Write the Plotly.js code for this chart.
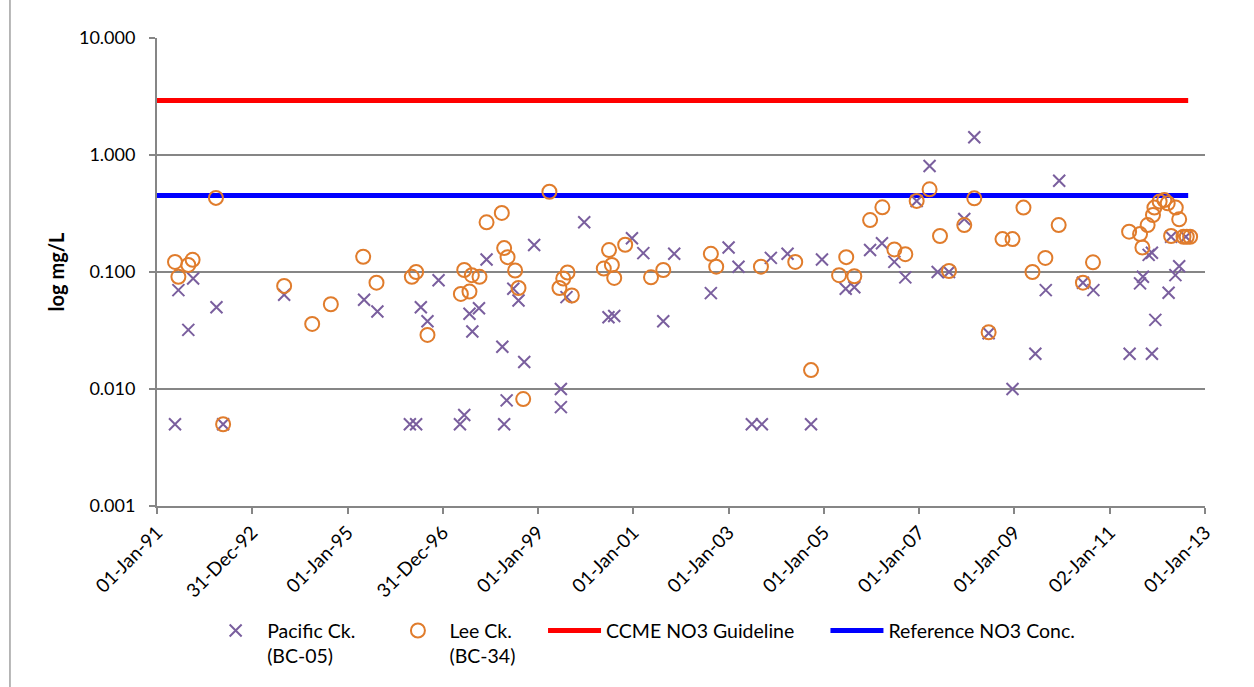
<!DOCTYPE html>
<html>
<head>
<meta charset="utf-8">
<script src="https://cdn.plot.ly/plotly-3.0.1.min.js"></script>
<style>html,body{margin:0;padding:0;background:#fff;}#chart{width:1254px;height:687px;}</style>
</head>
<body>
<div id="chart"></div>
<script>
// Sample dates as decimal years, values in mg/L
const pacificDates = [1991.38, 1991.45, 1991.66, 1991.76, 1992.25, 1992.39, 1993.67, 1995.35, 1995.63, 1996.31, 1996.44, 1996.54, 1996.68, 1996.91, 1997.36, 1997.45, 1997.56, 1997.62, 1997.76, 1997.92, 1998.25, 1998.29, 1998.34, 1998.48, 1998.59, 1998.71, 1998.92, 1999.48, 1999.48, 1999.60, 1999.97, 2000.48, 2000.60, 2000.97, 2001.21, 2001.63, 2001.86, 2002.63, 2003.00, 2003.21, 2003.49, 2003.70, 2003.89, 2004.24, 2004.73, 2004.96, 2005.46, 2005.64, 2005.97, 2006.22, 2006.48, 2006.71, 2006.95, 2007.22, 2007.39, 2007.63, 2007.95, 2008.16, 2008.46, 2008.96, 2009.44, 2009.66, 2009.94, 2010.44, 2010.66, 2011.42, 2011.64, 2011.70, 2011.82, 2011.89, 2011.89, 2011.96, 2012.24, 2012.29, 2012.38, 2012.46, 2012.60];
const pacificValues = [0.005, 0.07, 0.032, 0.088, 0.05, 0.005, 0.064, 0.058, 0.046, 0.005, 0.005, 0.05, 0.038, 0.085, 0.005, 0.006, 0.044, 0.031, 0.049, 0.128, 0.023, 0.005, 0.008, 0.072, 0.057, 0.017, 0.17, 0.01, 0.007, 0.061, 0.266, 0.041, 0.042, 0.194, 0.145, 0.038, 0.143, 0.066, 0.162, 0.111, 0.005, 0.005, 0.132, 0.143, 0.005, 0.128, 0.072, 0.074, 0.154, 0.176, 0.122, 0.09, 0.405, 0.805, 0.1, 0.1, 0.284, 1.42, 0.03, 0.01, 0.02, 0.07, 0.603, 0.081, 0.07, 0.02, 0.08, 0.091, 0.14, 0.146, 0.02, 0.039, 0.0665, 0.2, 0.094, 0.112, 0.2];

const leeDates = [1991.38, 1991.45, 1991.66, 1991.75, 1992.24, 1992.39, 1993.67, 1994.26, 1994.65, 1995.33, 1995.61, 1996.35, 1996.44, 1996.68, 1997.38, 1997.45, 1997.56, 1997.61, 1997.77, 1997.92, 1998.24, 1998.29, 1998.36, 1998.52, 1998.59, 1998.69, 1999.24, 1999.45, 1999.53, 1999.62, 1999.71, 2000.38, 2000.49, 2000.55, 2000.60, 2000.83, 2001.37, 2001.63, 2002.63, 2002.74, 2003.68, 2004.40, 2004.73, 2005.32, 2005.47, 2005.64, 2005.97, 2006.23, 2006.48, 2006.71, 2006.95, 2007.22, 2007.44, 2007.63, 2007.95, 2008.16, 2008.46, 2008.75, 2008.96, 2009.19, 2009.38, 2009.65, 2009.93, 2010.44, 2010.65, 2011.41, 2011.64, 2011.69, 2011.80, 2011.91, 2011.94, 2012.05, 2012.15, 2012.22, 2012.29, 2012.39, 2012.46, 2012.55, 2012.62, 2012.69];
const leeValues = [0.122, 0.091, 0.115, 0.127, 0.43, 0.005, 0.076, 0.036, 0.053, 0.135, 0.081, 0.091, 0.1, 0.029, 0.065, 0.104, 0.068, 0.094, 0.091, 0.266, 0.32, 0.16, 0.134, 0.103, 0.073, 0.0082, 0.485, 0.073, 0.088, 0.099, 0.063, 0.107, 0.154, 0.115, 0.089, 0.171, 0.09, 0.104, 0.143, 0.111, 0.111, 0.122, 0.0145, 0.094, 0.134, 0.092, 0.278, 0.357, 0.156, 0.142, 0.405, 0.509, 0.203, 0.102, 0.252, 0.426, 0.0305, 0.191, 0.191, 0.355, 0.1, 0.132, 0.252, 0.081, 0.121, 0.221, 0.211, 0.162, 0.252, 0.307, 0.355, 0.4, 0.412, 0.387, 0.203, 0.355, 0.282, 0.2, 0.2, 0.2];

const guidelineDates = ['1991-01-01', '2012-08-25'];
const ccmeValues = [2.93, 2.93];
const referenceValues = [0.45, 0.45];

const xTickVals = ['1991-01-01', '1992-12-31', '1995-01-01', '1996-12-31', '1999-01-01', '2001-01-01', '2003-01-01', '2005-01-01', '2007-01-01', '2009-01-01', '2011-01-02', '2013-01-01'];
const xTickText = ['01-Jan-91', '31-Dec-92', '01-Jan-95', '31-Dec-96', '01-Jan-99', '01-Jan-01', '01-Jan-03', '01-Jan-05', '01-Jan-07', '01-Jan-09', '02-Jan-11', '01-Jan-13'];
const yTickVals = [0.001, 0.01, 0.1, 1, 10];
const yTickText = ['0.001', '0.010', '0.100', '1.000', '10.000'];

function decYearToDate(d) {
  const y = Math.floor(d);
  const s = Date.UTC(y, 0, 1), e = Date.UTC(y + 1, 0, 1);
  return new Date(s + (d - y) * (e - s)).toISOString().slice(0, 10);
}

const FONT = 'Lato, "Open Sans", sans-serif';
const GRID = '#868686';
const PAD = '&nbsp;'.repeat(5) + '\u200A';

const traces = [
  {
    x: guidelineDates, y: ccmeValues, mode: 'lines', name: 'CCME NO3 Guideline' + PAD,
    line: {color: '#ff0000', width: 5}, legendrank: 3
  },
  {
    x: guidelineDates, y: referenceValues, mode: 'lines', name: 'Reference NO3 Conc.',
    line: {color: '#0000ff', width: 5}, legendrank: 4
  },
  {
    x: pacificDates.map(decYearToDate), y: pacificValues, mode: 'markers',
    name: 'Pacific Ck.' + PAD + '<br>(BC-05)', legendrank: 1,
    marker: {symbol: 'x-thin', size: 12, color: '#7a5f9e', line: {width: 2, color: '#7a5f9e'}}
  },
  {
    x: leeDates.map(decYearToDate), y: leeValues, mode: 'markers',
    name: 'Lee Ck.' + PAD + '<br>(BC-34)', legendrank: 2,
    marker: {symbol: 'circle-open', size: 14, color: '#e07c2c', line: {width: 2}}
  }
];

const layout = {
  width: 1254, height: 687,
  margin: {l: 157, r: 49, t: 38, b: 181},
  paper_bgcolor: '#ffffff', plot_bgcolor: '#ffffff',
  font: {family: FONT, size: 18, color: '#000'},
  showlegend: true,
  xaxis: {
    type: 'date', range: ['1991-01-01', '2013-01-01'],
    tickmode: 'array', tickvals: xTickVals, ticktext: xTickText,
    tickangle: -45, ticks: 'outside', ticklen: 6, tickwidth: 2, tickcolor: GRID,
    showline: true, linecolor: GRID, linewidth: 2,
    showgrid: false, zeroline: false,
    tickfont: {family: FONT, size: 19, color: '#000'}
  },
  yaxis: {
    type: 'log', range: [-3, 1],
    tickmode: 'array', tickvals: yTickVals, ticktext: yTickText,
    ticks: 'outside', ticklen: 6, tickwidth: 2, tickcolor: GRID,
    ticklabelstandoff: 10,
    showline: true, linecolor: GRID, linewidth: 2,
    showgrid: true, gridcolor: GRID, gridwidth: 1.5,
    zeroline: false,
    tickfont: {family: FONT, size: 18, color: '#000'},
    title: {text: '<b>log mg/L</b>', font: {family: FONT, size: 20, color: '#000'}, standoff: 9}
  },
  legend: {
    orientation: 'h', x: 0.045, xanchor: 'left', y: -0.225, yanchor: 'top',
    valign: 'top', itemwidth: 53, traceorder: 'normal',
    font: {family: FONT, size: 19.5, color: '#000'},
    bgcolor: 'rgba(0,0,0,0)'
  },
  shapes: [
    {type: 'line', xref: 'paper', yref: 'paper', x0: -0.1403, x1: -0.1403, y0: -0.4, y1: 1.09,
     line: {color: '#a0a0a0', width: 1.5}}
  ]
};

Plotly.newPlot('chart', traces, layout, {displayModeBar: false, staticPlot: true});
</script>
</body>
</html>
